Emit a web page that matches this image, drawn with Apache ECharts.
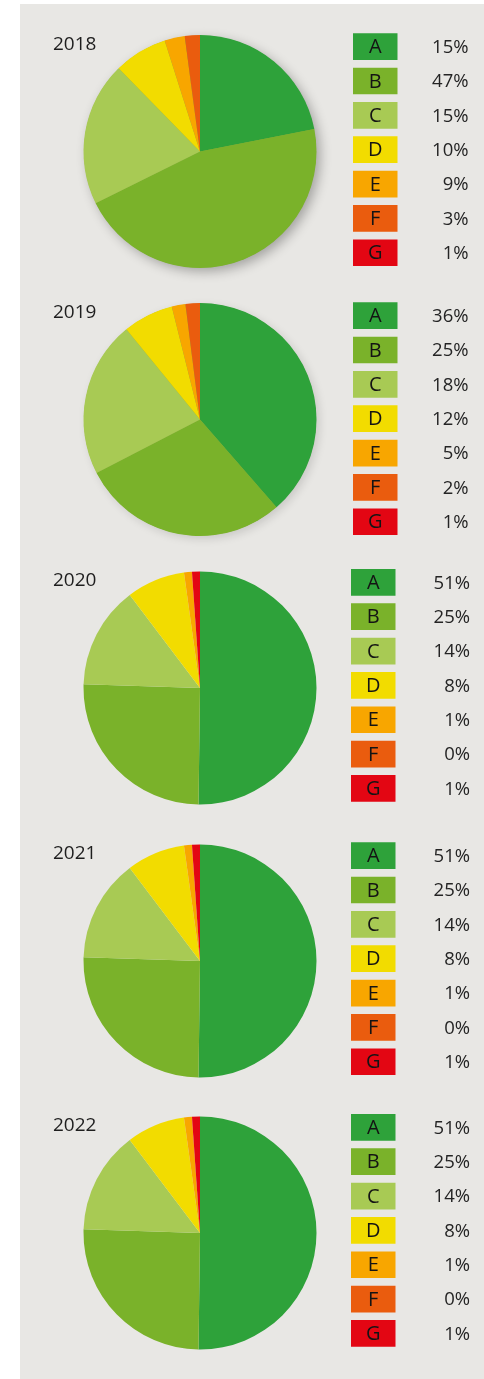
<!DOCTYPE html>
<html><head><meta charset="utf-8">
<script src="https://cdn.jsdelivr.net/npm/echarts@6/dist/echarts.min.js"></script>
<style>html,body{margin:0;padding:0;background:#ffffff;}#c{width:484px;height:1379px;}</style>
</head><body><div id="c"></div>
<script>
// ---- data ----
const categories = ['A', 'B', 'C', 'D', 'E', 'F', 'G'];
const colors = ['#2ea23a', '#7ab22a', '#a8ca54', '#f2dc00', '#f8a600', '#ea5c0e', '#e30613'];
const years = ['2018', '2019', '2020', '2021', '2022'];
// slice sizes as drawn in the picture (share of the circle, %)
const slices2018 = [21.9, 45.7, 20.0, 7.4, 2.8, 2.1, 0];
const slices2019 = [38.6, 28.8, 21.7, 7.0, 1.9, 2.0, 0];
const slices2020 = [50.2, 25.3, 14.2, 8.1, 1.1, 0, 1.1];
const slices2021 = [50.2, 25.3, 14.2, 8.1, 1.1, 0, 1.1];
const slices2022 = [50.2, 25.3, 14.2, 8.1, 1.1, 0, 1.1];
// percentages printed in the legends
const pct2018 = [15, 47, 15, 10, 9, 3, 1];
const pct2019 = [36, 25, 18, 12, 5, 2, 1];
const pct2020 = [51, 25, 14, 8, 1, 0, 1];
const pct2021 = [51, 25, 14, 8, 1, 0, 1];
const pct2022 = [51, 25, 14, 8, 1, 0, 1];

const allSlices = [slices2018, slices2019, slices2020, slices2021, slices2022];
const allPct = [pct2018, pct2019, pct2020, pct2021, pct2022];

// ---- layout ----
const pieCX = 200, pieR = 116.5;
const pieCY = [151.5, 419.5, 688, 961, 1233];
const legTop = [33.3, 302.3, 569, 842.3, 1114];
const boxX = [353, 353, 351, 351, 351];
const pctRight = [468.5, 468.5, 470, 470, 470];
const boxW = 44.5, boxH = 26.7, boxStep = 34.35;
const shadows = [
  { blur: 12, ox: 4, oy: 4, color: 'rgba(0,0,0,0.30)' },
  { blur: 10, ox: 3, oy: 3, color: 'rgba(0,0,0,0.14)' },
  null, null, null
];
const FONT = '"Open Sans", "DejaVu Sans", sans-serif';

const series = [];
const graphic = [{
  type: 'rect', z: -100, silent: true,
  shape: { x: 20, y: 4, width: 464, height: 1375 },
  style: { fill: '#e8e7e4' }
}];

years.forEach((yr, k) => {
  const sh = shadows[k];
  if (sh) {
    series.push({
      type: 'pie', silent: true, z: 1,
      center: [pieCX, pieCY[k]], radius: pieR - 0.5,
      label: { show: false }, labelLine: { show: false },
      itemStyle: { color: '#8aa84a', shadowBlur: sh.blur, shadowOffsetX: sh.ox, shadowOffsetY: sh.oy, shadowColor: sh.color },
      data: [{ name: 'shadow', value: 1 }],
      animation: false
    });
  }
  series.push({
    type: 'pie', name: yr, z: 2,
    center: [pieCX, pieCY[k]], radius: pieR,
    startAngle: 90, clockwise: true,
    minAngle: 0, avoidLabelOverlap: false,
    label: { show: false }, labelLine: { show: false },
    itemStyle: { borderWidth: 0 },
    emphasis: { disabled: true },
    data: categories.map((c, i) => ({ name: c, value: allSlices[k][i], itemStyle: { color: colors[i] } })),
    animation: false
  });
  graphic.push({
    type: 'text', z: 100, silent: true,
    x: 53, y: pieCY[k] - 107,
    style: { text: yr, font: '19px ' + FONT, fill: '#1e1e1e', verticalAlign: 'middle', align: 'left' }
  });
  categories.forEach((c, i) => {
    const top = legTop[k] + i * boxStep;
    graphic.push({
      type: 'rect', z: 100, silent: true,
      shape: { x: boxX[k], y: top, width: boxW, height: boxH },
      style: { fill: colors[i] }
    });
    graphic.push({
      type: 'text', z: 101, silent: true,
      x: boxX[k] + boxW / 2, y: top + boxH / 2 + 1,
      style: { text: c, font: '20px ' + FONT, fill: '#141414', align: 'center', verticalAlign: 'middle' }
    });
    graphic.push({
      type: 'text', z: 101, silent: true,
      x: pctRight[k], y: top + boxH / 2 + 1,
      style: { text: allPct[k][i] + '%', font: '18.5px ' + FONT, fill: '#242424', align: 'right', verticalAlign: 'middle' }
    });
  });
});

const chart = echarts.init(document.getElementById('c'), null, { renderer: 'canvas' });
chart.setOption({
  animation: false,
  backgroundColor: '#ffffff',
  tooltip: { show: false },
  series: series,
  graphic: graphic
});
</script>
</body></html>
